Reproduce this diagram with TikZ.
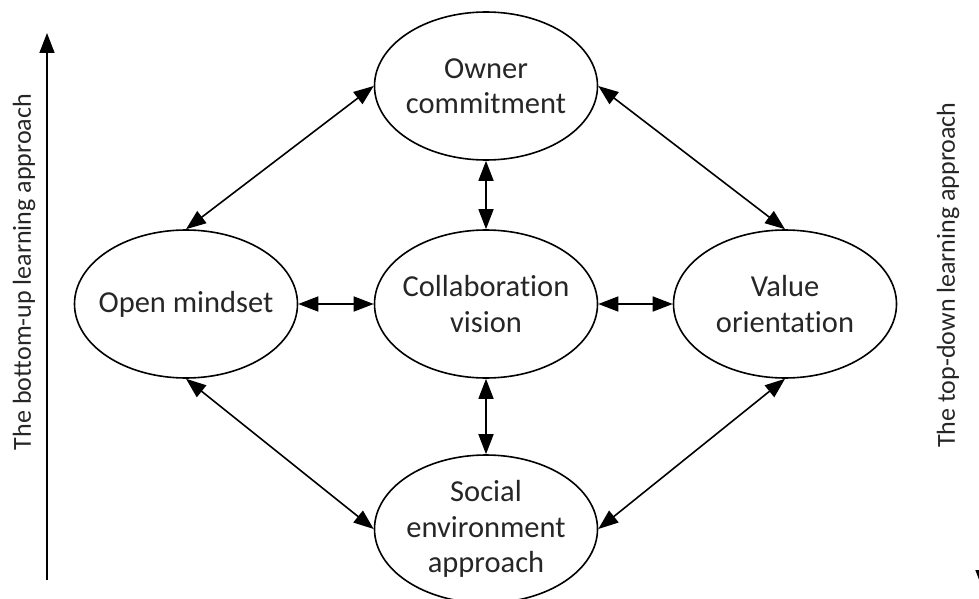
\documentclass[tikz,border=0pt]{standalone}
\usepackage{fontspec}
\setmainfont{Carlito}[Ligatures={NoCommon}]
\usetikzlibrary{shapes.geometric,arrows.meta}
\begin{document}
\begin{tikzpicture}[x=1pt,y=-1pt,
  blob/.style={ellipse,draw=black,line width=1.6pt,minimum width=223pt,minimum height=148pt,inner xsep=-30pt,inner ysep=-20pt,align=center,font=\fontsize{30.5}{35.5}\selectfont,text=black!85},
  link/.style={{Triangle[length=20pt,width=15pt]}-{Triangle[length=20pt,width=15pt]},line width=1.6pt},
  side/.style={rotate=90,font=\fontsize{26}{30}\selectfont,text=black!85},
  uparrow/.style={-{Triangle[length=20pt,width=15pt]},line width=1.6pt}]
\useasboundingbox (0,0) rectangle (979,599);
\node[blob] (own) at (486,86) {Owner\\commitment};
\node[blob] (open) at (186,304) {Open mindset};
\node[blob] (coll) at (486,304) {Collaboration\\vision};
\node[blob] (val) at (785,304) {Value\\orientation};
\node[blob] (soc) at (486,529) {Social\\environment\\approach};
\draw[link] (own.west) -- (open.north);
\draw[link] (own.east) -- (val.north);
\draw[link] (own.south) -- (coll.north);
\draw[link] (open.east) -- (coll.west);
\draw[link] (coll.east) -- (val.west);
\draw[link] (coll.south) -- (soc.north);
\draw[link] (open.south) -- (soc.west);
\draw[link] (val.south) -- (soc.east);
\coordinate (lb) at (47,580);
\coordinate (lt) at (47,33);
\draw[uparrow] (lb) -- (lt);
\coordinate (rt) at (983,33);
\coordinate (rb) at (983,590);
\draw[uparrow] (rt) -- (rb);
\node[side] (lefttext) at (24,272) {The bottom-up learning approach};
\node[side] (righttext) at (948,275) {The top-down learning approach};
\end{tikzpicture}
\end{document}
